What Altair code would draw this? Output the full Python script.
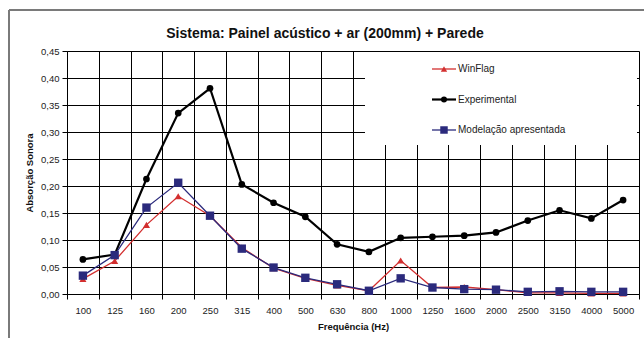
import altair as alt
import pandas as pd

freqs = ["100", "125", "160", "200", "250", "315", "400", "500", "630", "800",
         "1000", "1250", "1600", "2000", "2500", "3150", "4000", "5000"]
winflag = [0.028, 0.061, 0.128, 0.181, 0.145, 0.086, 0.048, 0.029, 0.016, 0.006,
           0.062, 0.012, 0.013, 0.008, 0.002, 0.002, 0.001, 0.001]
experimental = [0.064, 0.073, 0.213, 0.335, 0.381, 0.203, 0.169, 0.143, 0.092, 0.078,
                0.104, 0.106, 0.108, 0.114, 0.136, 0.155, 0.140, 0.174]
modelacao = [0.034, 0.072, 0.160, 0.206, 0.145, 0.084, 0.049, 0.030, 0.018, 0.006,
             0.029, 0.012, 0.009, 0.008, 0.004, 0.005, 0.004, 0.004]

series_names = ["WinFlag", "Experimental", "Modelação apresentada"]
series_values = [winflag, experimental, modelacao]
colors = ["#d32f2f", "#000000", "#2b2a7c"]
shapes = ["triangle-up", "circle", "square"]
stroke_widths = [1.3, 2.2, 1.3]
marker_sizes = [50, 45, 70]

title_text = "Sistema: Painel acústico + ar (200mm) + Parede"

W, H = 572, 243
FONT = "Liberation Sans"

rows = []
for name, vals in zip(series_names, series_values):
    for f, v in zip(freqs, vals):
        rows.append({"freq": f, "value": v, "series": name})
df = pd.DataFrame(rows)

x_enc = alt.X(
    "freq:N", sort=freqs,
    scale=alt.Scale(type="band", paddingInner=0, paddingOuter=0),
    axis=alt.Axis(title="Frequência (Hz)", labelAngle=0, tickBand="extent",
                  grid=True, gridColor="black", gridOpacity=1, gridWidth=1,
                  domainColor="black", tickColor="black", tickSize=5,
                  labelFontSize=9.5, labelColor="#222", labelPadding=6,
                  titleFontSize=9.5, titleFontWeight="bold", titlePadding=7,
                  titleColor="#111"),
)
y_ticks = [round(i * 0.05, 2) for i in range(10)]
y_enc = alt.Y(
    "value:Q",
    scale=alt.Scale(domain=[0, 0.45], nice=False),
    axis=alt.Axis(title="Absorção Sonora", values=y_ticks,
                  labelExpr="replace(format(datum.value, '.2f'), '.', ',')",
                  grid=True, gridColor="black", gridOpacity=1, gridWidth=1,
                  domainColor="black", tickColor="black", tickSize=5,
                  labelFontSize=9.5, labelColor="#222", labelPadding=3,
                  titleFontSize=9.5, titleFontWeight="bold", titlePadding=6,
                  titleColor="#111"),
)

one = pd.DataFrame({"k": [0]})
layers = []

# white legend box covering gridlines
layers.append(
    alt.Chart(one).mark_rect(color="white").encode(
        x=alt.value(298), x2=alt.value(570), y=alt.value(1), y2=alt.value(94)
    )
)

for name, col, shp, sw, ms in zip(series_names, colors, shapes, stroke_widths, marker_sizes):
    sub = alt.Chart(df).transform_filter(alt.datum.series == name)
    layers.append(sub.mark_line(color=col, strokeWidth=sw).encode(x=x_enc, y=y_enc))
    layers.append(sub.mark_point(color=col, shape=shp, filled=True, size=ms, opacity=1)
                  .encode(x=x_enc, y=y_enc))

# manual legend
for i, (name, col, shp, sw, ms) in enumerate(zip(series_names, colors, shapes, stroke_widths, marker_sizes)):
    ly = 18 + 30.5 * i
    layers.append(alt.Chart(one).mark_rule(color=col, strokeWidth=sw).encode(
        x=alt.value(365), x2=alt.value(389), y=alt.value(ly)))
    layers.append(alt.Chart(one).mark_point(color=col, shape=shp, filled=True, size=ms * 0.8, opacity=1).encode(
        x=alt.value(377), y=alt.value(ly)))
    layers.append(alt.Chart(one).mark_text(text=name, align="left", baseline="middle",
                                           font=FONT, fontSize=10, color="#222").encode(
        x=alt.value(391), y=alt.value(ly)))

# chart title
layers.append(alt.Chart(one).mark_text(text=title_text, align="center", baseline="alphabetic",
                                       font=FONT, fontSize=14, fontWeight="bold", color="#111").encode(
    x=alt.value(258), y=alt.value(-13)))

# outer frame (top and left edges)
layers.append(alt.Chart(one).mark_rule(color="#7a7a7a", strokeWidth=2).encode(
    x=alt.value(-58), x2=alt.value(600), y=alt.value(-41)))
layers.append(alt.Chart(one).mark_rule(color="#7a7a7a", strokeWidth=2).encode(
    x=alt.value(-58), y=alt.value(-41), y2=alt.value(300)))

chart = alt.layer(*layers).properties(
    width=W, height=H,
    autosize=alt.AutoSizeParams(type="none"),
    padding={"left": 67, "top": 51, "right": 5, "bottom": 44},
).configure_view(stroke="black", strokeWidth=1).configure_axis(
    labelFont=FONT, titleFont=FONT
).configure(background="white")

chart.save("out.html", embed_options={"renderer": "svg", "actions": False})
